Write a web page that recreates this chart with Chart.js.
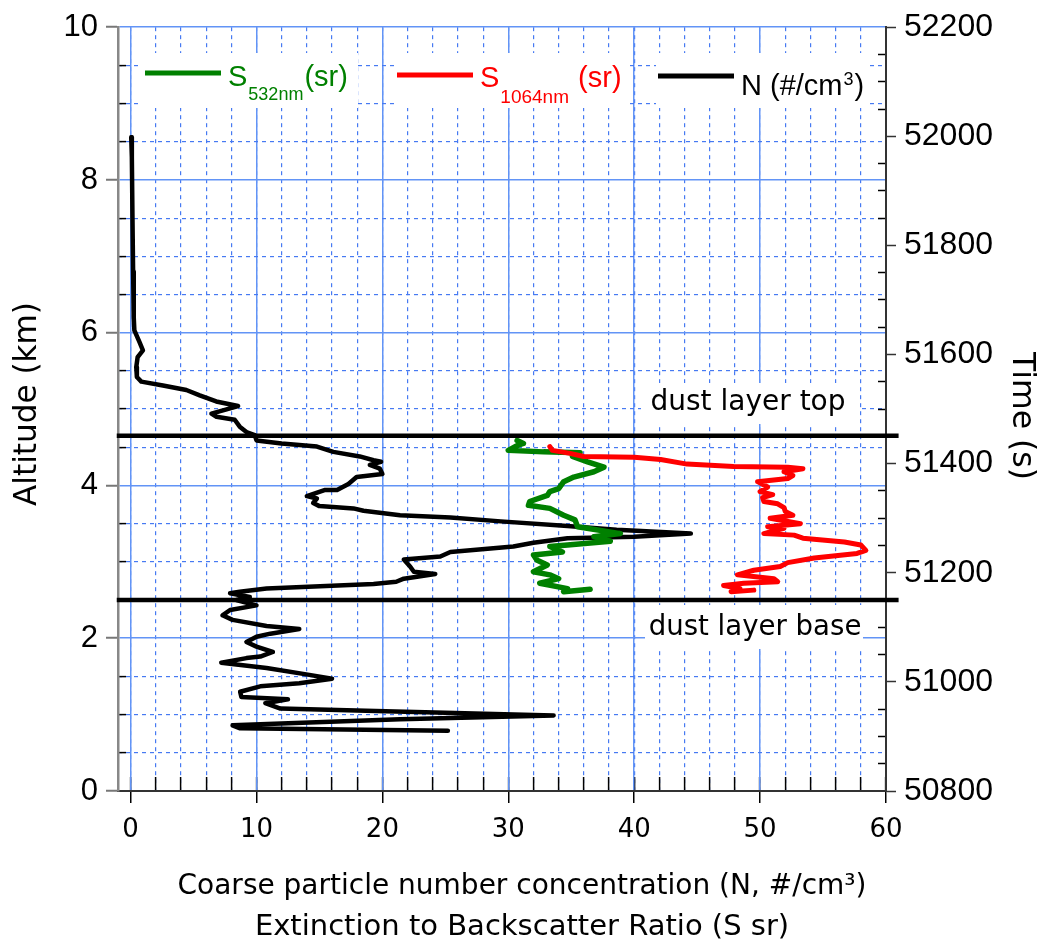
<!DOCTYPE html>
<html>
<head>
<meta charset="utf-8">
<script src="https://cdn.jsdelivr.net/npm/chart.js@4.4.1/dist/chart.umd.min.js"></script>
<style>
  html, body { margin: 0; padding: 0; background: #ffffff; }
  #wrap { width: 1043px; height: 945px; }
</style>
</head>
<body>
<div id="wrap"><canvas id="chart" width="1043" height="945"></canvas></div>
<script>
// Coarse particle number concentration N (#/cm3) against altitude (km)
const nValues = [0.05, 0.1, 0.15, 0.2, 0.25, 0.3, 0.7, 0.98, 0.56, 0.45, 0.5, 0.85, 2.57, 4.43, 5.49, 6.8, 8.54, 6.42, 6.82, 8.27,
  8.67, 9.2, 9.86, 10.0, 12.0, 14.8, 16.1, 18.2, 19.3, 19.9, 19.0, 19.8, 20.0, 17.95, 17.3, 16.4, 15.4, 14.0, 14.8, 14.5,
  15.0, 17.7, 18.5, 21.4, 25.4, 29.4, 34.7, 38.6, 44.5, 40.0, 34.7, 32.0, 30.4, 25.4, 24.6, 21.7, 22.2, 22.5, 24.2, 21.7,
  21.1, 19.3, 10.8, 8.67, 7.9, 9.47, 8.4, 10.0, 7.9, 7.3, 8.1, 10.8, 13.4, 11.1, 10.0, 9.2, 10.0, 11.3, 10.3, 9.2,
  7.2, 10.8, 14.2, 16.0, 13.4, 10.3, 8.7, 8.8, 12.5, 10.7, 11.9, 18.7, 33.6, 21.4, 8.1, 8.7, 25.2];
const nAltitudes = [8.56, 8.3, 7.5, 6.8, 6.2, 6.03, 5.88, 5.77, 5.68, 5.55, 5.42, 5.36, 5.31, 5.25, 5.18, 5.1, 5.04, 4.94, 4.9, 4.86,
  4.77, 4.70, 4.66, 4.59, 4.55, 4.51, 4.44, 4.38, 4.33, 4.31, 4.27, 4.22, 4.15, 4.11, 4.02, 3.94, 3.94, 3.86, 3.83, 3.77,
  3.73, 3.70, 3.67, 3.61, 3.58, 3.53, 3.47, 3.42, 3.37, 3.33, 3.31, 3.25, 3.20, 3.13, 3.07, 3.03, 2.94, 2.87, 2.84, 2.78,
  2.74, 2.71, 2.65, 2.61, 2.59, 2.54, 2.50, 2.43, 2.37, 2.30, 2.24, 2.16, 2.12, 2.06, 2.02, 1.95, 1.89, 1.82, 1.76, 1.74,
  1.68, 1.61, 1.52, 1.47, 1.41, 1.37, 1.30, 1.23, 1.20, 1.15, 1.08, 1.05, 0.99, 0.94, 0.86, 0.82, 0.79];

// Extinction-to-backscatter ratio S at 532 nm (sr)
const s532Values = [30.7, 31.2, 30.8, 30.0, 32.8, 35.7, 35.1, 36.3, 37.6, 36.8, 35.2, 34.4, 34.0, 33.3, 33.1, 31.7, 31.6, 33.3, 34.4, 35.3,
  35.5, 38.9, 36.8, 38.1, 34.7, 33.3, 34.3, 32.0, 32.3, 33.1, 32.0, 33.3, 34.0, 32.5, 34.7, 34.4, 36.5];
const s532Altitudes = [4.59, 4.55, 4.53, 4.46, 4.44, 4.43, 4.38, 4.31, 4.24, 4.18, 4.11, 4.05, 3.96, 3.92, 3.87, 3.79, 3.74, 3.70, 3.61, 3.55,
  3.46, 3.37, 3.33, 3.27, 3.22, 3.20, 3.13, 3.09, 3.02, 2.96, 2.87, 2.83, 2.78, 2.72, 2.65, 2.61, 2.64];

// Extinction-to-backscatter ratio S at 1064 nm (sr)
const s1064Values = [33.3, 33.5, 34.9, 36.0, 40.0, 42.1, 44.2, 47.9, 52.2, 53.4, 51.9, 52.6, 52.2, 49.8, 50.6, 50.0, 51.0, 50.2, 50.3, 51.4,
  51.9, 52.0, 52.6, 50.8, 53.2, 50.6, 51.9, 50.3, 52.7, 53.4, 56.7, 58.0, 58.4, 57.7, 54.3, 52.2, 51.6, 49.5, 48.2, 51.1,
  51.4, 48.7, 47.1, 48.4, 47.7, 49.5];
const s1064Altitudes = [4.51, 4.46, 4.42, 4.38, 4.37, 4.34, 4.28, 4.25, 4.24, 4.22, 4.18, 4.13, 4.09, 4.05, 3.98, 3.92, 3.88, 3.84, 3.79, 3.76,
  3.71, 3.66, 3.61, 3.57, 3.50, 3.46, 3.44, 3.37, 3.35, 3.31, 3.26, 3.22, 3.15, 3.11, 3.05, 2.99, 2.94, 2.89, 2.83, 2.78,
  2.74, 2.72, 2.69, 2.65, 2.61, 2.63];

// Dust layer boundaries (km) and the x extent of their marker lines
const dustTop = 4.65;
const dustBase = 2.5;
const dustLineSpan = [-1.1, 61.0];

// Axis ranges and tick values
const xRange = [-1, 60];
const altRange = [0, 10];
const timeRange = [50800, 52200];
const xTicks = [0, 10, 20, 30, 40, 50, 60];
const xMinorTicks = [0, 2, 4, 6, 8, 10, 12, 14, 16, 18, 20, 22, 24, 26, 28, 30, 32, 34, 36, 38, 40, 42, 44, 46, 48, 50, 52, 54, 56, 58, 60];
const altTicks = [0, 2, 4, 6, 8, 10];
const altMinorTicks = [0.5, 1, 1.5, 2.5, 3, 3.5, 4.5, 5, 5.5, 6.5, 7, 7.5, 8.5, 9, 9.5];
const timeTicks = [50800, 51000, 51200, 51400, 51600, 51800, 52000, 52200];
const timeMinorTicks = [50850, 50900, 50950, 51050, 51100, 51150, 51250, 51300, 51350, 51450, 51500, 51550,
  51650, 51700, 51750, 51850, 51900, 51950, 52050, 52100, 52150];

const GRID_SOLID = 'rgb(98,148,246)';
const GRID_DASH = 'rgb(70,122,242)';
const SANS = '"Liberation Sans", Arial, sans-serif';
const HAND = '"DejaVu Sans", sans-serif';

function toPoints(xs, ys) { return xs.map((v, i) => ({ x: v, y: ys[i] })); }
function useTicks(values) { return scale => { scale.ticks = values.map(v => ({ value: v })); }; }
function fixWidth(w) { return scale => { scale.width = w; }; }
function fixHeight(h) { return scale => { scale.height = h; }; }
const plainNumber = v => String(v);

function profile(label, xs, ys, color, width, order) {
  return {
    label, data: toPoints(xs, ys), showLine: true, borderColor: color, backgroundColor: color,
    borderWidth: width, pointRadius: 0, borderJoinStyle: 'round', borderCapStyle: 'round',
    xAxisID: 'x', yAxisID: 'y', order
  };
}
function levelLine(label, alt) {
  return {
    label, data: toPoints(dustLineSpan, [alt, alt]), showLine: true, borderColor: '#000', borderWidth: 4.5,
    pointRadius: 0, clip: false, xAxisID: 'x', yAxisID: 'y', order: 0
  };
}

// Text size that makes a string span a given width
function fitSize(ctx, text, family, width) {
  ctx.font = '100px ' + family;
  return 100 * width / ctx.measureText(text).width;
}

// Legend entries with sub/superscripts, plus the dust layer labels
const annotations = {
  id: 'annotations',
  beforeDatasetsDraw(chart) {
    const ctx = chart.ctx;
    ctx.save();
    // dust layer labels on white boxes
    const labels = [
      { text: 'dust layer top', cx: 748, cy: 403, w: 195, box: [641, 383, 217, 41] },
      { text: 'dust layer base', cx: 755, cy: 628, w: 213, box: [645, 605, 218, 44] }
    ];
    labels.forEach(l => {
      ctx.fillStyle = '#fff';
      ctx.fillRect(l.box[0], l.box[1], l.box[2], l.box[3]);
      const size = fitSize(ctx, l.text, HAND, l.w);
      ctx.font = size.toFixed(1) + 'px ' + HAND;
      ctx.fillStyle = '#000';
      ctx.textAlign = 'center';
      ctx.textBaseline = 'middle';
      ctx.fillText(l.text, l.cx, l.cy);
    });

    // legend
    const entries = [
      { color: 'rgb(0,128,0)', box: [140, 53, 218, 55], line: [145, 221, 73], base: 86,
        parts: [['S', 29, 0], ['532nm', 18, 14], ['(sr)', 29, 0]] },
      { color: 'rgb(255,0,0)', box: [394, 53, 234, 55], line: [397, 473, 75], base: 87,
        parts: [['S', 29, 0], ['1064nm', 19, 16], [' (sr)', 29, 0]] },
      { color: '#000', box: [656, 53, 214, 55], line: [658, 734, 76], base: 95,
        parts: [['N (#/cm', 29, 0], ['3', 18, -10], [')', 29, 0]] }
    ];
    entries.forEach(e => {
      ctx.fillStyle = '#fff';
      ctx.fillRect(e.box[0], e.box[1], e.box[2], e.box[3]);
      ctx.strokeStyle = e.color;
      ctx.lineWidth = 5;
      ctx.lineCap = 'butt';
      ctx.beginPath();
      ctx.moveTo(e.line[0], e.line[2]);
      ctx.lineTo(e.line[1], e.line[2]);
      ctx.stroke();
      let x = e.line[1] + 7;
      ctx.fillStyle = e.color;
      ctx.textAlign = 'left';
      ctx.textBaseline = 'alphabetic';
      e.parts.forEach(p => {
        ctx.font = p[1] + 'px ' + SANS;
        ctx.fillText(p[0], x, e.base + p[2]);
        x += ctx.measureText(p[0]).width + 1;
      });
    });
    ctx.restore();
  },
  afterDraw(chart) {
    const ctx = chart.ctx;
    ctx.save();
    ctx.fillStyle = '#000';
    ctx.textAlign = 'center';
    ctx.textBaseline = 'middle';
    // bottom axis titles
    const t1 = 'Coarse particle number concentration (N, #/cm\u00B3)';
    const t2 = 'Extinction to Backscatter Ratio (S sr)';
    ctx.font = fitSize(ctx, t1, HAND, 688).toFixed(1) + 'px ' + HAND;
    ctx.fillText(t1, 522, 887);
    ctx.font = fitSize(ctx, t2, HAND, 535).toFixed(1) + 'px ' + HAND;
    ctx.fillText(t2, 522, 927);
    // left axis title
    const t3 = 'Altitude (km)';
    ctx.save();
    ctx.translate(28, 404);
    ctx.rotate(-Math.PI / 2);
    ctx.font = fitSize(ctx, t3, HAND, 204).toFixed(1) + 'px ' + HAND;
    ctx.fillText(t3, 0, 0);
    ctx.restore();
    // right axis title
    const t4 = 'Time (s)';
    ctx.save();
    ctx.translate(1021, 416);
    ctx.rotate(Math.PI / 2);
    ctx.font = fitSize(ctx, t4, HAND, 128).toFixed(1) + 'px ' + HAND;
    ctx.fillText(t4, 0, 0);
    ctx.restore();
    ctx.restore();
  }
};

const minorGrid = { color: GRID_DASH, lineWidth: 1.2, tickColor: '#000', tickWidth: 1.5 };

new Chart(document.getElementById('chart'), {
  type: 'scatter',
  data: {
    datasets: [
      levelLine('dust layer top', dustTop),
      levelLine('dust layer base', dustBase),
      profile('S1064nm (sr)', s1064Values, s1064Altitudes, 'rgb(255,0,0)', 5, 1),
      profile('S532nm (sr)', s532Values, s532Altitudes, 'rgb(0,128,0)', 5.5, 2),
      profile('N (#/cm3)', nValues, nAltitudes, '#000', 4.5, 3)
    ]
  },
  options: {
    responsive: false,
    devicePixelRatio: 1,
    animation: false,
    layout: { padding: { top: 27, left: 0, right: 0, bottom: 0 } },
    plugins: { legend: { display: false }, tooltip: { enabled: false } },
    scales: {
      xm: {
        type: 'linear', position: 'bottom', weight: 0, min: xRange[0], max: xRange[1],
        afterBuildTicks: useTicks(xMinorTicks), afterFit: fixHeight(0),
        grid: Object.assign({ tickLength: -14 }, minorGrid),
        border: { display: false, dash: [4, 4] }, ticks: { display: false }
      },
      x: {
        type: 'linear', position: 'bottom', weight: 1, min: xRange[0], max: xRange[1],
        afterBuildTicks: useTicks(xTicks), afterFit: fixHeight(154),
        grid: { color: GRID_SOLID, lineWidth: 1.5, tickLength: 12, tickColor: '#000', tickWidth: 1.5 },
        border: { color: '#333', width: 2 },
        ticks: { color: '#000', font: { family: HAND, size: 26 }, padding: 12, maxRotation: 0, callback: plainNumber }
      },
      ym: {
        type: 'linear', position: 'left', weight: 0, min: altRange[0], max: altRange[1],
        afterBuildTicks: useTicks(altMinorTicks), afterFit: fixWidth(0),
        grid: Object.assign({ tickLength: -8 }, minorGrid),
        border: { display: false, dash: [4, 4] }, ticks: { display: false }
      },
      y: {
        type: 'linear', position: 'left', weight: 1, min: altRange[0], max: altRange[1],
        afterBuildTicks: useTicks(altTicks), afterFit: fixWidth(118),
        grid: { color: GRID_SOLID, lineWidth: 1.5, tickLength: 12, tickColor: '#777', tickWidth: 2 },
        border: { color: '#888', width: 2.5 },
        ticks: { color: '#000', font: { family: SANS, size: 31 }, padding: 8, callback: plainNumber }
      },
      tm: {
        type: 'linear', position: 'right', weight: 0, min: timeRange[0], max: timeRange[1],
        afterBuildTicks: useTicks(timeMinorTicks), afterFit: fixWidth(0),
        grid: { drawOnChartArea: false, tickLength: -8, tickColor: '#000', tickWidth: 1.5 },
        border: { display: false }, ticks: { display: false }
      },
      t: {
        type: 'linear', position: 'right', weight: 1, min: timeRange[0], max: timeRange[1],
        afterBuildTicks: useTicks(timeTicks), afterFit: fixWidth(157),
        grid: { drawOnChartArea: false, tickLength: 10, tickColor: '#333', tickWidth: 1.5 },
        border: { color: '#333', width: 2 },
        ticks: { color: '#000', font: { family: SANS, size: 32 }, padding: 8, callback: plainNumber }
      }
    }
  },
  plugins: [annotations]
});
</script>
</body>
</html>
